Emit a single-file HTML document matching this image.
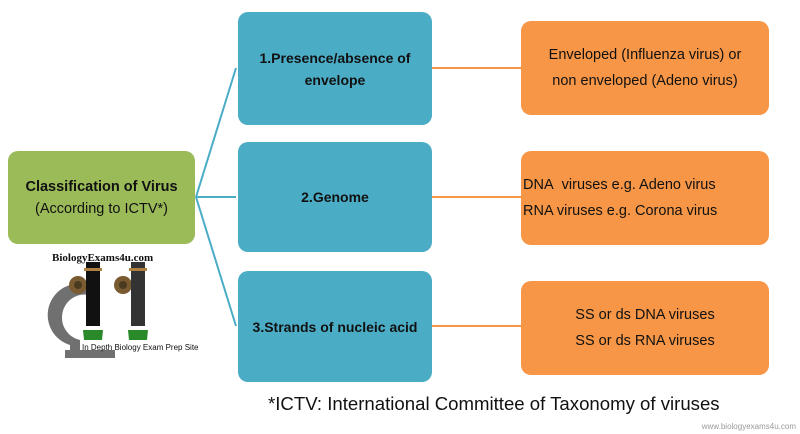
<!DOCTYPE html>
<html><head><style>
body{margin:0;width:800px;height:434px;background:#fff;position:relative;overflow:hidden;font-family:"Liberation Sans",sans-serif}
.b{position:absolute;border-radius:10px;display:flex;align-items:center;justify-content:center;text-align:center;color:#111;font-size:14px;line-height:22px}
.g{background:#9BBB59}
.bl{background:#4BACC6;font-weight:bold;left:238px;width:194px}
.o{background:#F79646;left:521px;width:248px;height:94px;font-size:14.5px;line-height:26px}
</style></head><body>
<svg width="800" height="434" style="position:absolute;left:0;top:0">
<g stroke="#4BACC6" stroke-width="2" fill="none">
<line x1="196" y1="197" x2="236" y2="68"/>
<line x1="196" y1="197" x2="236" y2="197"/>
<line x1="196" y1="197" x2="236" y2="326"/>
</g>
<g stroke="#F79646" stroke-width="2">
<line x1="432" y1="68" x2="521" y2="68"/>
<line x1="432" y1="197" x2="521" y2="197"/>
<line x1="432" y1="326" x2="521" y2="326"/>
</g>
<path d="M88 285 A28 28 0 0 0 70 345 L70 350 L80 350 L80 340 A20 20 0 0 1 90 295 Z" fill="#707070"/>
<rect x="65" y="350" width="50" height="8" fill="#707070"/>
<circle cx="78" cy="285" r="9" fill="#7a5a30"/><circle cx="78" cy="285" r="4" fill="#4a3a20"/>
<rect x="86" y="262" width="14" height="64" fill="#111"/>
<rect x="84" y="268" width="18" height="3" fill="#b08040"/>
<circle cx="123" cy="285" r="9" fill="#7a5a30"/><circle cx="123" cy="285" r="4" fill="#4a3a20"/>
<rect x="131" y="262" width="14" height="64" fill="#333"/>
<rect x="129" y="268" width="18" height="3" fill="#b08040"/>
<path d="M83 330 L103 330 L102 340 L84 340Z" fill="#2a8a2a"/>
<path d="M128 330 L148 330 L147 340 L129 340Z" fill="#2a8a2a"/>
<text x="82" y="350" font-size="8" font-family="Liberation Sans Narrow, Liberation Sans, sans-serif" fill="#111">In Depth Biology Exam Prep Site</text>
<text x="52" y="261" font-size="11" font-family="Liberation Serif, serif" font-weight="bold" fill="#111">BiologyExams4u.com</text>
</svg>
<div class="b g" style="left:8px;top:151px;width:187px;height:93px;font-size:14.5px"><div><b>Classification of Virus</b><br>(According to ICTV*)</div></div>
<div class="b bl" style="top:12px;height:113px">1.Presence/absence of<br>envelope</div>
<div class="b bl" style="top:142px;height:110px">2.Genome</div>
<div class="b bl" style="top:271px;height:111px">3.Strands of nucleic acid</div>
<div class="b o" style="top:21px">Enveloped (Influenza virus) or<br>non enveloped (Adeno virus)</div>
<div class="b o" style="top:151px;justify-content:flex-start;text-align:left;padding-left:2px;width:246px">DNA&nbsp; viruses e.g. Adeno virus<br>RNA viruses e.g. Corona virus</div>
<div class="b o" style="top:281px">SS or ds DNA viruses<br>SS or ds RNA viruses</div>
<div style="position:absolute;left:268px;top:393px;font-size:18.6px;color:#111">*ICTV: International Committee of Taxonomy of viruses</div>
<div style="position:absolute;right:4px;top:422px;font-size:8px;color:#999">www.biologyexams4u.com</div>
</body></html>
